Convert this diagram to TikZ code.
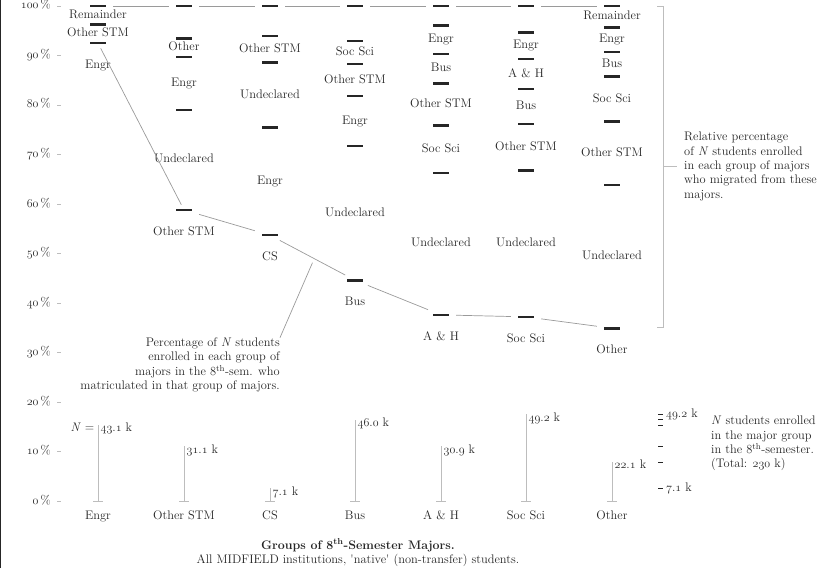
\documentclass[tikz,border=0pt]{standalone}
\usepackage{fontspec}
\usepackage{tikz}
\usetikzlibrary{positioning,calc}

\definecolor{ink}{HTML}{262626}
\definecolor{midline}{HTML}{9A9A9A}
\definecolor{paleline}{HTML}{BDBDBD}

\newcommand{\fs}{\fontsize{12.4}{14.4}\selectfont}
\newcommand{\osn}[1]{{\usefont{OML}{cmm}{m}{it}#1}}
\def\osdec#1.#2\relax{\osn{#1}.\osn{#2}}

\tikzset{
  tk/.style={rectangle, minimum width=30pt, minimum height=10pt, inner sep=0pt,
    path picture={\draw[ink, line width=2.6pt]
      ([xshift=-8pt]path picture bounding box.center) --
      ([xshift=8pt]path picture bounding box.center);}},
  lab/.style={text=ink, font=\fs, inner sep=1pt, text height=8.5pt, text depth=2.5pt},
  note/.style={text=ink, font=\fs, inner sep=0pt},
  link/.style={draw=midline, line width=0.7pt},
  bar/.style={draw=paleline, line width=0.9pt},
}

\begin{document}
\begin{tikzpicture}[x=1pt, y=4.95pt]
\useasboundingbox (0,-13.535) rectangle (834,101.212);
\draw[ink, line width=1.4pt] (0.7,-13.535) -- (0.7,101.212);

% percentage axis
\foreach \p in {0,10,...,100} {
  \node[lab, anchor=east] (y\p) at (52,\p) {\osn{\p}\,\%};
  \draw[paleline, line width=0.7pt] ([xshift=5pt]y\p.east) -- ([xshift=9pt]y\p.east);
}

% columns: number / x / N (k) / {ticks (%) / label above the tick} / group
\foreach \c/\x/\n/\lv/\g in {
  1/98/43.1/{96.3/Remainder,92.5/Other STM}/Engr,
  2/184/31.1/{93.4/,89.7/Other,79.0/Engr,58.8/Undeclared}/Other STM,
  3/270/7.1/{93.9/,88.6/Other STM,75.4/Undeclared,53.7/Engr}/CS,
  4/355/46.0/{92.9/,88.3/Soc Sci,81.8/Other STM,71.7/Engr,44.6/Undeclared}/Bus,
  5/441/30.9/{96.0/,90.3/Engr,84.3/Bus,75.9/Other STM,66.3/Soc Sci,37.6/Undeclared}/A \& H,
  6/526/49.2/{94.6/,89.3/Engr,83.2/A \& H,76.2/Bus,66.8/Other STM,37.2/Undeclared}/Soc Sci,
  7/612/22.1/{95.7/Remainder,90.7/Engr,85.7/Bus,76.7/Soc Sci,63.8/Other STM,34.9/Undeclared}/Other} {
  \node[tk] (t\c-0) at (\x,100) {};
  \foreach \y/\s [count=\i, remember=\i as \j (initially 0)] in \lv {
    \node[tk, alias=m\c] (t\c-\i) at (\x,\y) {};
    \edef\tmp{\s}
    \ifx\tmp\empty\else
      \node[lab] (l\c-\i) at ($(t\c-\j)!.5!(t\c-\i)$) {\s};
    \fi
  }
  \node[lab, below=10.5pt of m\c] (g\c) {\g};
  % N students
  \coordinate (b\c) at (\x,0);
  \coordinate (h\c) at (\x,{\n*0.357});
  \draw[bar] (b\c) -- (h\c);
  \draw[bar] ([xshift=-5pt]b\c) -- ([xshift=5pt]b\c);
  \node[lab, anchor=west] (v\c) at ([xshift=1.5pt,yshift=-4pt]h\c) {\expandafter\osdec\n\relax\ k};
  \node[lab] (x\c) at (\x,-3.03) {\g};
}
\node[lab, anchor=east] (neq) at ([xshift=-2.5pt,yshift=-4pt]h1) {\textit{N} =};

\foreach \c [remember=\c as \p (initially 1)] in {2,...,7} {
  \draw[link] (t\p-0) -- (t\c-0);
  \draw[link] (m\p) -- (m\c);
}

% migration bracket
\coordinate (bm) at (663,67.6);
\draw[paleline, line width=0.9pt] (657,100) -- (663,100) -- (663,35.15) -- (657,35.15);
\node[note, anchor=west, align=left] (rel) at (684,67.6) {Relative percentage\\of \textit{N} students enrolled\\in each group of majors\\who migrated from these\\majors.};
\draw[paleline, line width=0.9pt] (bm) -- ([xshift=-7pt]rel.west);

% matriculation note
\node[note, anchor=north east, align=right] (pct) at (280,33.0) {Percentage of \textit{N} students\\enrolled in each group of\\majors in the 8\textsuperscript{th}-sem. who\\matriculated in that group of majors.};
\coordinate (pm) at ($(m3)!.5!(m4)+(0,-1)$);
\draw[link] (pct.north east) -- (pm);

% N legend
\foreach \n in {49.2,46.0,43.1,31.1,30.9,22.1,7.1}
  \draw[ink, line width=0.6pt] (658,{\n*0.357}) -- (663,{\n*0.357});
\node[lab, anchor=west] (nmax) at (665,{49.2*0.357}) {\osdec49.2\relax\ k};
\node[lab, anchor=west] (nmin) at (665,{7.1*0.357}) {\osdec7.1\relax\ k};
\node[note, anchor=north west, align=left] (nleg) at (711,17.2) {\textit{N}\ students enrolled\\in the major group\\in the 8\textsuperscript{th}-semester.\\(Total: \osn{230} k)};

\node[note, font=\fs\bfseries] (ttl) at (358,-8.9) {Groups of 8\textsuperscript{th}-Semester Majors.};
\node[note] (sub) at (358,-11.9) {All MIDFIELD institutions, \textquotesingle native\textquotesingle\ (non-transfer) students.};
\end{tikzpicture}
\end{document}
